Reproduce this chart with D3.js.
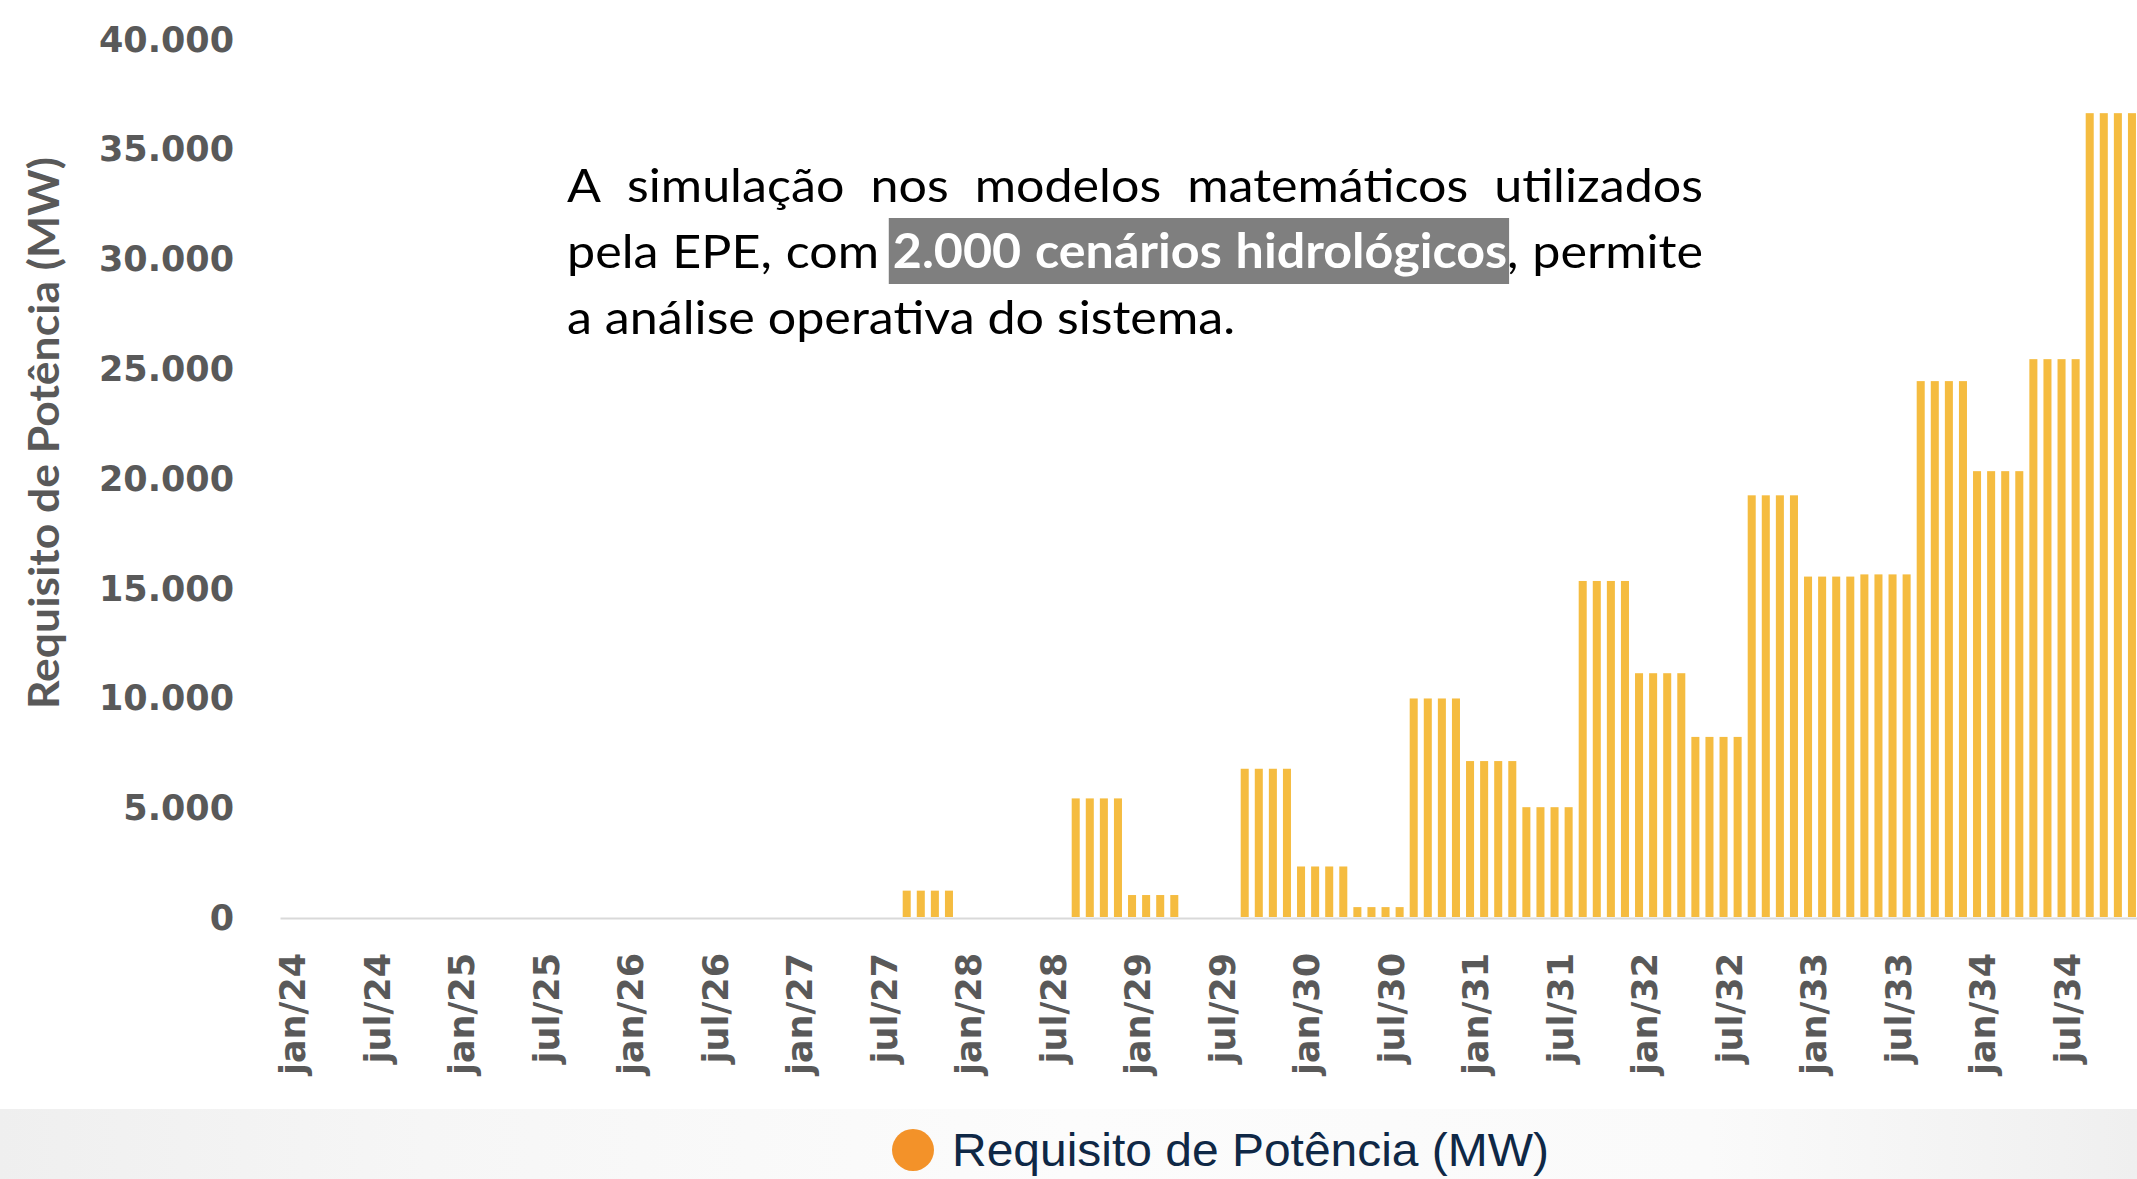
<!DOCTYPE html>
<html>
<head>
<meta charset="utf-8">
<script src="https://cdn.jsdelivr.net/npm/d3@7"></script>
<style>
  html, body { margin: 0; padding: 0; background: #fff; overflow: hidden; }
  svg { display: block; }
</style>
</head>
<body>
<svg id="chart" width="2137" height="1179"></svg>
<script>
const MONTHS = ['jan', 'fev', 'mar', 'abr', 'mai', 'jun', 'jul', 'ago', 'set', 'out', 'nov', 'dez'];
const YEARS = ['24', '25', '26', '27', '28', '29', '30', '31', '32', '33', '34'];
const categories = YEARS.flatMap(y => MONTHS.map(m => m + '/' + y));

// Requisito de Potência (MW), one value per month
const requisito = [
  0, 0, 0, 0,  0, 0, 0, 0,  0, 0, 0, 0,                                  // 2024
  0, 0, 0, 0,  0, 0, 0, 0,  0, 0, 0, 0,                                  // 2025
  0, 0, 0, 0,  0, 0, 0, 0,  0, 0, 0, 0,                                  // 2026
  0, 0, 0, 0,  0, 0, 0, 0,  1200, 1200, 1200, 1200,                      // 2027
  0, 0, 0, 0,  0, 0, 0, 0,  5400, 5400, 5400, 5400,                      // 2028
  1000, 1000, 1000, 1000,  0, 0, 0, 0,  6750, 6750, 6750, 6750,          // 2029
  2300, 2300, 2300, 2300,  450, 450, 450, 450,  9950, 9950, 9950, 9950,  // 2030
  7100, 7100, 7100, 7100,  5000, 5000, 5000, 5000,  15300, 15300, 15300, 15300,   // 2031
  11100, 11100, 11100, 11100,  8200, 8200, 8200, 8200,  19200, 19200, 19200, 19200, // 2032
  15500, 15500, 15500, 15500,  15600, 15600, 15600, 15600,  24400, 24400, 24400, 24400, // 2033
  20300, 20300, 20300, 20300,  25400, 25400, 25400, 25400,  36600, 36600, 36600, 36600  // 2034
];

const yTicks = [0, 5000, 10000, 15000, 20000, 25000, 30000, 35000, 40000];
const xTicks = ['jan/24', 'jul/24', 'jan/25', 'jul/25', 'jan/26', 'jul/26', 'jan/27', 'jul/27',
                'jan/28', 'jul/28', 'jan/29', 'jul/29', 'jan/30', 'jul/30', 'jan/31', 'jul/31',
                'jan/32', 'jul/32', 'jan/33', 'jul/33', 'jan/34', 'jul/34'];
const seriesName = 'Requisito de Potência (MW)';
const yTitle = 'Requisito de Potência (MW)';

const noteLine1 = ['A', 'simulação', 'nos', 'modelos', 'matemáticos', 'utilizados'];
const noteLine2 = ['pela', 'EPE,', 'com', '2.000', 'cenários', 'hidrológicos', ',', 'permite'];
const noteLine3 = ['a', 'análise', 'operativa', 'do', 'sistema.'];
const noteHighlight = ['2.000', 'cenários', 'hidrológicos'];

const svg = d3.select('#chart');
const W = 2137, H = 1179;
const BAR = '#f5bc40', GREY = '#595959';
const ptBR = d3.formatLocale({decimal: ',', thousands: '.', grouping: [3], currency: ['R$', '']});
const fmt = ptBR.format(',d');

// slide background strip at the bottom
const defs = svg.append('defs');
const grad = defs.append('linearGradient').attr('id', 'strip').attr('x1', 0).attr('x2', 1);
[[0, '#efefef'], [0.2, '#f6f6f6'], [0.5, '#fcfcfc'], [0.8, '#fafafa'], [0.93, '#f3f3f3'], [1, '#efefef']]
  .forEach(s => grad.append('stop').attr('offset', s[0]).attr('stop-color', s[1]));
svg.append('rect').attr('x', 0).attr('y', 1109).attr('width', W).attr('height', H - 1109)
  .attr('fill', 'url(#strip)');

const x = d3.scaleBand().domain(categories).range([280, 2139])
  .paddingInner(0.43).paddingOuter(0.215);
const y = d3.scaleLinear().domain([0, 40000]).range([917, 38.5]);

// bars
svg.append('g').selectAll('rect')
  .data(categories.map((c, i) => ({c: c, v: requisito[i]})))
  .join('rect')
  .attr('x', d => x(d.c))
  .attr('y', d => y(d.v))
  .attr('width', x.bandwidth())
  .attr('height', d => y(0) - y(d.v))
  .attr('fill', BAR);

// x axis
const gx = svg.append('g').attr('transform', 'translate(0,918)')
  .call(d3.axisBottom(x).tickValues(xTicks).tickSize(0).tickSizeOuter(0).tickPadding(0));
gx.select('.domain').attr('stroke', '#d9d9d9').attr('stroke-width', 2);
gx.selectAll('.tick text')
  .attr('transform', 'rotate(-90)')
  .attr('text-anchor', 'end')
  .attr('x', -35)
  .attr('y', 18)
  .attr('dy', 0)
  .attr('fill', GREY)
  .style('font', 'bold 35px "DejaVu Sans", Verdana, sans-serif');

// y axis
const gy = svg.append('g').attr('transform', 'translate(234,0)')
  .call(d3.axisLeft(y).tickValues(yTicks).tickFormat(fmt).tickSize(0).tickPadding(0));
gy.select('.domain').remove();
gy.selectAll('.tick text')
  .attr('dy', '0.36em')
  .attr('fill', GREY)
  .style('font', 'bold 35px "DejaVu Sans", Verdana, sans-serif');

svg.append('text')
  .attr('transform', 'translate(59,433) rotate(-90)')
  .attr('text-anchor', 'middle')
  .attr('fill', GREY)
  .attr('textLength', 552)
  .attr('lengthAdjust', 'spacingAndGlyphs')
  .style('font', 'bold 42px Lato, "Open Sans", sans-serif')
  .text(yTitle);

// annotation: justified paragraph with highlighted words
const note = svg.append('g').style('font-family', 'Lato, "Open Sans", sans-serif').style('font-size', '47px');

function measure(word, bold) {
  const t = note.append('text').style('font-weight', bold ? 'bold' : 'normal').text(word);
  const w = t.node().getComputedTextLength();
  t.remove();
  return w;
}

const left = 567, right = 1703;
const spaceW = measure('a a') - 2 * measure('a');
const line3W = d3.sum(noteLine3, w => measure(w)) + spaceW * (noteLine3.length - 1);
const k = 668 / line3W;

function drawLine(words, baseline, justify) {
  const toks = words.map(w => ({
    t: w,
    hl: noteHighlight.includes(w),
    join: w === ','
  }));
  toks.forEach(d => d.w = measure(d.t, d.hl) * k);
  const gaps = toks.filter((d, i) => i > 0 && !d.join).length;
  const gap = justify ? (right - left - d3.sum(toks, d => d.w)) / gaps : spaceW * k;
  let cx = left;
  toks.forEach((d, i) => {
    if (i > 0 && !d.join) cx += gap;
    d.x = cx;
    cx += d.w;
  });
  const hl = toks.filter(d => d.hl);
  if (hl.length) {
    const a = hl[0], b = hl[hl.length - 1];
    note.append('rect')
      .attr('x', a.x - 4).attr('y', baseline - 50)
      .attr('width', b.x + b.w - a.x + 6).attr('height', 66)
      .attr('fill', '#7f7f7f');
  }
  note.selectAll(null).data(toks).join('text')
    .attr('x', d => d.x)
    .attr('y', baseline)
    .attr('textLength', d => d.w)
    .attr('lengthAdjust', 'spacingAndGlyphs')
    .attr('fill', d => d.hl ? '#fff' : '#000')
    .style('font-weight', d => d.hl ? 'bold' : 'normal')
    .text(d => d.t);
}

drawLine(noteLine1, 202, true);
drawLine(noteLine2, 268, true);
drawLine(noteLine3, 334, false);

// legend
const legend = svg.append('g');
legend.append('circle').attr('cx', 913).attr('cy', 1150).attr('r', 21).attr('fill', '#f39229');
legend.append('text')
  .attr('x', 952).attr('y', 1166)
  .attr('fill', '#0f2846')
  .attr('textLength', 597)
  .attr('lengthAdjust', 'spacingAndGlyphs')
  .style('font', '46px "Liberation Sans Narrow", "Arial Narrow", "Liberation Sans", sans-serif')
  .text(seriesName);
</script>
</body>
</html>
